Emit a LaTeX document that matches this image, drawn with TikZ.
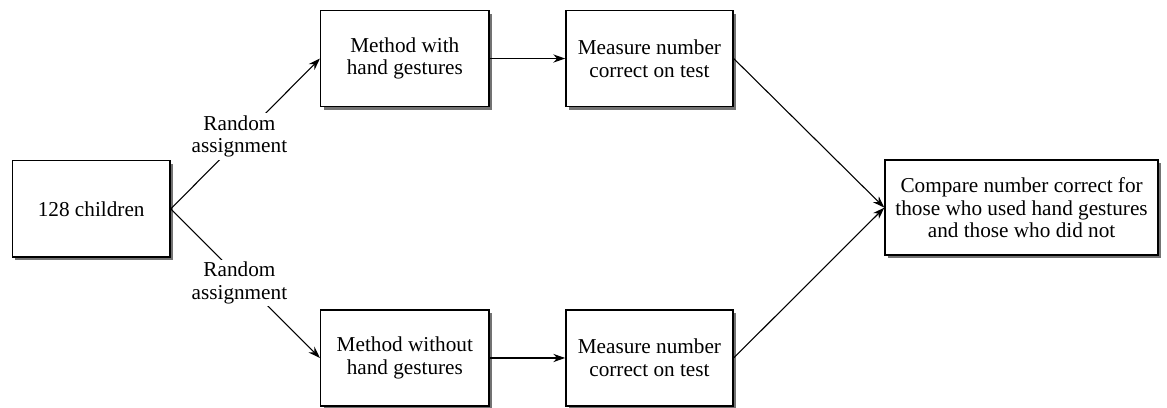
\documentclass[tikz,border=0pt]{standalone}
\usepackage{fontspec}
\setmainfont{Liberation Serif}
\usepackage{xcolor}
\usepackage{tikz}
\usetikzlibrary{arrows.meta,positioning,calc,shadows}

\tikzset{
    stagebox/.style={draw, line width=0.7pt, fill=white, align=center,
        minimum height=1.56cm, inner sep=2pt,
        drop shadow={shadow xshift=1.4pt, shadow yshift=-1.4pt, fill=black, opacity=0.55}},
    flow/.style={-{Stealth[length=5.5pt,width=3.8pt]}, line width=0.5pt},
    assign/.style={fill=white, align=center, inner sep=1pt}
}

\begin{document}
\begin{tikzpicture}[font=\fontsize{9.8}{10.4}\selectfont]
    \useasboundingbox (0,0) rectangle (18.94,6.61);

    \node[stagebox, minimum width=2.56cm, minimum height=1.57cm] (children) at (1.48,3.22) {128 children};

    \node[stagebox, minimum width=2.73cm] (withm) at (6.57,5.66) {Method with\\hand gestures};
    \node[stagebox, minimum width=2.73cm] (withoutm) at (6.57,0.80) {Method without\\hand gestures};

    \node[stagebox, minimum width=2.71cm] (meas1) at (10.54,5.66) {Measure number\\correct on test};
    \node[stagebox, minimum width=2.71cm] (meas2) at (10.54,0.80) {Measure number\\correct on test};

    \node[stagebox, minimum width=4.43cm, minimum height=1.54cm] (compare) at (16.58,3.24)
        {Compare number correct for\\those who used hand gestures\\and those who did not};

    \draw[flow] (children.east) -- node[assign, pos=0.46, yshift=1.5pt] {Random\\assignment} (withm.west);
    \draw[flow] (children.east) -- node[assign, pos=0.46, yshift=-2.5pt] {Random\\assignment} (withoutm.west);

    \draw[flow] (withm) -- (meas1);
    \draw[flow] (withoutm) -- (meas2);

    \draw[flow] (meas1.east) -- (compare.west);
    \draw[flow] (meas2.east) -- (compare.west);
\end{tikzpicture}
\end{document}
